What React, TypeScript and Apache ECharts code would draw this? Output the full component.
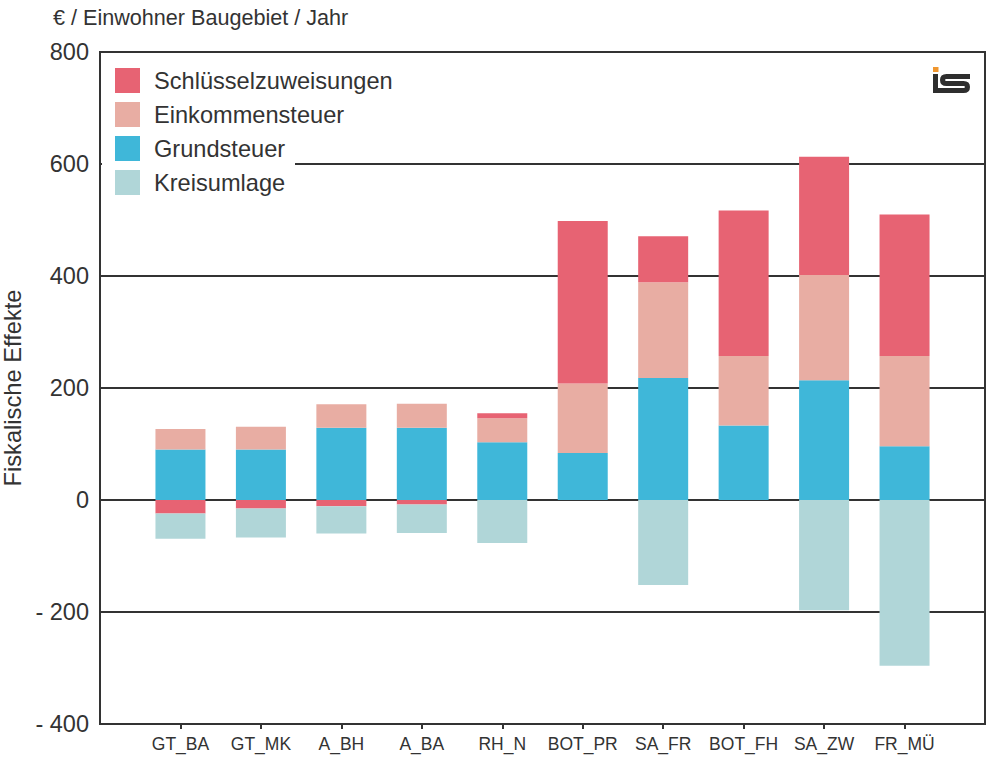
import React, { useEffect, useRef } from "react";
import * as echarts from "echarts";

const categories = ["", "GT_BA", "GT_MK", "A_BH", "A_BA", "RH_N", "BOT_PR", "SA_FR", "BOT_FH", "SA_ZW", "FR_MÜ", ""];
const grundsteuer = [null, 90, 90, 129, 129, 103, 84, 218, 133, 214, 96, null];
const einkommensteuer = [null, 37, 41, 42, 43, 43, 124, 171, 124, 188, 161, null];
const schluesselzuweisungen = [null, -24, -15, -11, -8, 9, 290, 82, 260, 211, 253, null];
const kreisumlage = [null, -45, -52, -49, -51, -77, null, -152, null, -197, -296, null];
const legendOrder = ["Schlüsselzuweisungen", "Einkommensteuer", "Grundsteuer", "Kreisumlage"];

const FONT = "'Liberation Sans', Arial, sans-serif";
const TXT = "#333333";

const S_PATH = "M 37 2.5 H 13.5 Q 9.5 2.5 9.5 6 Q 9.5 9.5 13.5 9.5 H 30.5 Q 34.5 9.5 34.5 13 Q 34.5 16.5 30.5 16.5 H 2";
let registered = false;

export default function App() {
  const ref = useRef<HTMLDivElement>(null);
  useEffect(() => {
    if (!ref.current) return;
    if (!registered) {
      echarts.graphic.registerShape("logoS", echarts.graphic.extendPath(S_PATH, {}));
      registered = true;
    }
    const chart = echarts.init(ref.current, null, { renderer: "svg" });
    const bar = (name: string, data: any[], color: string) => ({
      name,
      type: "bar",
      stack: "total",
      data,
      barWidth: 50,
      itemStyle: { color },
      emphasis: { disabled: true },
    });
    chart.setOption({
      animation: false,
      backgroundColor: "#ffffff",
      textStyle: { fontFamily: FONT },
      grid: {
        left: 100,
        right: 1,
        top: 52,
        bottom: 34,
        containLabel: false,
        outerBoundsMode: "none",
        show: true,
        borderColor: "#333333",
        borderWidth: 2,
        backgroundColor: "transparent",
      },
      legend: {
        data: legendOrder,
        orient: "vertical",
        left: 115,
        top: 68,
        padding: 0,
        itemWidth: 25,
        itemHeight: 25,
        itemGap: 9,
        icon: "rect",
        z: 10,
        textStyle: { fontSize: 23.6, color: TXT, fontFamily: FONT, padding: [0, 0, 0, 9] },
      },
      xAxis: {
        type: "category",
        data: categories,
        boundaryGap: false,
        axisLine: { show: true, onZero: false, lineStyle: { color: "#333333", width: 2 } },
        axisTick: {
          show: true,
          length: 5,
          interval: (i: number) => i > 0 && i < categories.length - 1,
          lineStyle: { color: "#333333", width: 2 },
        },
        axisLabel: { interval: 0, fontSize: 17.5, color: TXT, margin: 11, fontFamily: FONT },
        splitLine: { show: false },
      },
      yAxis: {
        type: "value",
        min: -400,
        max: 800,
        interval: 200,
        name: "Fiskalische Effekte",
        nameLocation: "middle",
        nameGap: 68,
        nameTextStyle: { fontSize: 23.7, color: TXT, fontFamily: FONT },
        axisLine: { show: true, lineStyle: { color: "#333333", width: 2 } },
        axisTick: { show: false },
        axisLabel: {
          fontSize: 23.5,
          color: TXT,
          margin: 11,
          fontFamily: FONT,
          formatter: (v: number) => (v < 0 ? "- " + Math.abs(v) : String(v)),
        },
        splitLine: { show: true, lineStyle: { color: "#333333", width: 2 } },
      },
      graphic: [
        {
          type: "text",
          left: 53,
          top: 6,
          style: { text: "€ / Einwohner Baugebiet / Jahr", fontSize: 21.6, fill: TXT, fontFamily: FONT },
        },
        {
          type: "rect",
          z: 5,
          shape: { x: 102, y: 156, width: 193, height: 16 },
          style: { fill: "#ffffff" },
        },
        {
          type: "group",
          x: 933,
          y: 67,
          z: 20,
          children: [
            { type: "rect", shape: { x: 0, y: 0, width: 5.5, height: 5 }, style: { fill: "#f0962e" } },
            { type: "rect", shape: { x: 0, y: 7, width: 5, height: 19 }, style: { fill: "#2e2e2e" } },
            {
              type: "logoS",
              x: 0,
              y: 7,
              style: { fill: "none", stroke: "#2e2e2e", lineWidth: 5 },
            },
          ],
        },
      ],
      series: [
        bar("Grundsteuer", grundsteuer, "#3fb7d9"),
        bar("Einkommensteuer", einkommensteuer, "#e8ada3"),
        bar("Schlüsselzuweisungen", schluesselzuweisungen, "#e76373"),
        bar("Kreisumlage", kreisumlage, "#b0d6d8"),
      ],
    });
    return () => chart.dispose();
  }, []);
  return <div ref={ref} style={{ width: 986, height: 758, position: "absolute", left: 0, top: 0 }} />;
}
